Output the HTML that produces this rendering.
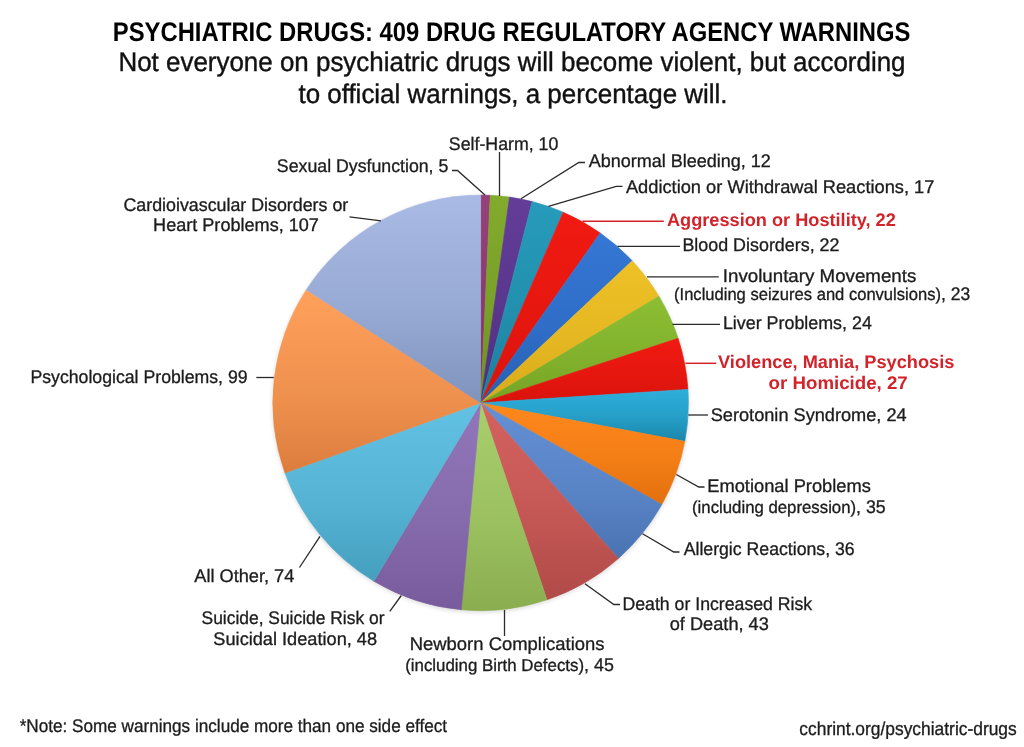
<!DOCTYPE html>
<html><head><meta charset="utf-8"><title>Psychiatric Drugs: 409 Drug Regulatory Agency Warnings</title>
<style>
html,body{margin:0;padding:0;background:#fff;}
body{width:1024px;height:747px;overflow:hidden;font-family:"Liberation Sans",sans-serif;}
svg{display:block;will-change:transform;}
svg text{font-family:"Liberation Sans",sans-serif;text-rendering:geometricPrecision;}
</style></head><body>
<svg width="1024" height="747" viewBox="0 0 1024 747">
<defs>
<linearGradient id="g0" x1="0" y1="0" x2="0" y2="1"><stop offset="0" stop-color="#97417a"/><stop offset="0.55" stop-color="#8c3970"/><stop offset="1" stop-color="#7e2f63"/></linearGradient>
<linearGradient id="g1" x1="0" y1="0" x2="0" y2="1"><stop offset="0" stop-color="#82ab2d"/><stop offset="0.55" stop-color="#79a028"/><stop offset="1" stop-color="#6c9020"/></linearGradient>
<linearGradient id="g2" x1="0" y1="0" x2="0" y2="1"><stop offset="0" stop-color="#633d99"/><stop offset="0.55" stop-color="#5a368d"/><stop offset="1" stop-color="#4e2d7d"/></linearGradient>
<linearGradient id="g3" x1="0" y1="0" x2="0" y2="1"><stop offset="0" stop-color="#279bbb"/><stop offset="0.55" stop-color="#228fae"/><stop offset="1" stop-color="#1a7f9c"/></linearGradient>
<linearGradient id="g4" x1="0" y1="0" x2="0" y2="1"><stop offset="0" stop-color="#f01a12"/><stop offset="0.55" stop-color="#e6170f"/><stop offset="1" stop-color="#d8130c"/></linearGradient>
<linearGradient id="g5" x1="0" y1="0" x2="0" y2="1"><stop offset="0" stop-color="#3577d4"/><stop offset="0.55" stop-color="#2f6dc7"/><stop offset="1" stop-color="#2660b4"/></linearGradient>
<linearGradient id="g6" x1="0" y1="0" x2="0" y2="1"><stop offset="0" stop-color="#eec127"/><stop offset="0.55" stop-color="#e5b722"/><stop offset="1" stop-color="#d9aa1a"/></linearGradient>
<linearGradient id="g7" x1="0" y1="0" x2="0" y2="1"><stop offset="0" stop-color="#8cbe33"/><stop offset="0.55" stop-color="#82b22d"/><stop offset="1" stop-color="#75a224"/></linearGradient>
<linearGradient id="g8" x1="0" y1="0" x2="0" y2="1"><stop offset="0" stop-color="#f01a12"/><stop offset="0.55" stop-color="#e6170f"/><stop offset="1" stop-color="#d8130c"/></linearGradient>
<linearGradient id="g9" x1="0" y1="0" x2="0" y2="1"><stop offset="0" stop-color="#2db0dc"/><stop offset="0.55" stop-color="#259ec7"/><stop offset="1" stop-color="#1a86aa"/></linearGradient>
<linearGradient id="g10" x1="0" y1="0" x2="0" y2="1"><stop offset="0" stop-color="#ff881c"/><stop offset="0.55" stop-color="#f37e16"/><stop offset="1" stop-color="#e2700e"/></linearGradient>
<linearGradient id="g11" x1="0" y1="0" x2="0" y2="1"><stop offset="0" stop-color="#6490d4"/><stop offset="0.55" stop-color="#5984c6"/><stop offset="1" stop-color="#4a73b2"/></linearGradient>
<linearGradient id="g12" x1="0" y1="0" x2="0" y2="1"><stop offset="0" stop-color="#d4625f"/><stop offset="0.55" stop-color="#c55855"/><stop offset="1" stop-color="#b04a48"/></linearGradient>
<linearGradient id="g13" x1="0" y1="0" x2="0" y2="1"><stop offset="0" stop-color="#a8cf6c"/><stop offset="0.55" stop-color="#9bc160"/><stop offset="1" stop-color="#8aad50"/></linearGradient>
<linearGradient id="g14" x1="0" y1="0" x2="0" y2="1"><stop offset="0" stop-color="#9176b9"/><stop offset="0.55" stop-color="#866bad"/><stop offset="1" stop-color="#785b9c"/></linearGradient>
<linearGradient id="g15" x1="0" y1="0" x2="0" y2="1"><stop offset="0" stop-color="#62c2e4"/><stop offset="0.55" stop-color="#56b3d4"/><stop offset="1" stop-color="#459fbe"/></linearGradient>
<linearGradient id="g16" x1="0" y1="0" x2="0" y2="1"><stop offset="0" stop-color="#ffa15b"/><stop offset="0.55" stop-color="#f0924f"/><stop offset="1" stop-color="#dc7d3e"/></linearGradient>
<linearGradient id="g17" x1="0" y1="0" x2="0" y2="1"><stop offset="0" stop-color="#a9bbe5"/><stop offset="0.55" stop-color="#97aad4"/><stop offset="1" stop-color="#7f93bd"/></linearGradient>
<filter id="sh" x="-10%" y="-10%" width="120%" height="120%"><feGaussianBlur stdDeviation="2.2"/></filter>
</defs>
<rect width="1024" height="747" fill="#ffffff"/>
<circle cx="480.6" cy="404.4" r="208.3" fill="#000" opacity="0.13" filter="url(#sh)"/>
<g>
<path d="M480.60,402.90 L480.60,195.10 A207.8,207.8 0 0 1 490.25,195.32 Z" fill="url(#g0)" stroke="url(#g0)" stroke-width="0.6"/>
<path d="M480.60,402.90 L490.25,195.32 A207.8,207.8 0 0 1 509.48,197.12 Z" fill="url(#g1)" stroke="url(#g1)" stroke-width="0.6"/>
<path d="M480.60,402.90 L509.48,197.12 A207.8,207.8 0 0 1 532.20,201.61 Z" fill="url(#g2)" stroke="url(#g2)" stroke-width="0.6"/>
<path d="M480.60,402.90 L532.20,201.61 A207.8,207.8 0 0 1 563.23,212.24 Z" fill="url(#g3)" stroke="url(#g3)" stroke-width="0.6"/>
<path d="M480.60,402.90 L563.23,212.24 A207.8,207.8 0 0 1 600.23,232.99 Z" fill="url(#g4)" stroke="url(#g4)" stroke-width="0.6"/>
<path d="M480.60,402.90 L600.23,232.99 A207.8,207.8 0 0 1 632.24,260.82 Z" fill="url(#g5)" stroke="url(#g5)" stroke-width="0.6"/>
<path d="M480.60,402.90 L632.24,260.82 A207.8,207.8 0 0 1 658.93,296.22 Z" fill="url(#g6)" stroke="url(#g6)" stroke-width="0.6"/>
<path d="M480.60,402.90 L658.93,296.22 A207.8,207.8 0 0 1 678.11,338.32 Z" fill="url(#g7)" stroke="url(#g7)" stroke-width="0.6"/>
<path d="M480.60,402.90 L678.11,338.32 A207.8,207.8 0 0 1 687.96,389.39 Z" fill="url(#g8)" stroke="url(#g8)" stroke-width="0.6"/>
<path d="M480.60,402.90 L687.96,389.39 A207.8,207.8 0 0 1 684.82,441.31 Z" fill="url(#g9)" stroke="url(#g9)" stroke-width="0.6"/>
<path d="M480.60,402.90 L684.82,441.31 A207.8,207.8 0 0 1 661.83,504.56 Z" fill="url(#g10)" stroke="url(#g10)" stroke-width="0.6"/>
<path d="M480.60,402.90 L661.83,504.56 A207.8,207.8 0 0 1 618.40,558.44 Z" fill="url(#g11)" stroke="url(#g11)" stroke-width="0.6"/>
<path d="M480.60,402.90 L618.40,558.44 A207.8,207.8 0 0 1 547.01,599.80 Z" fill="url(#g12)" stroke="url(#g12)" stroke-width="0.6"/>
<path d="M480.60,402.90 L547.01,599.80 A207.8,207.8 0 0 1 461.31,609.80 Z" fill="url(#g13)" stroke="url(#g13)" stroke-width="0.6"/>
<path d="M480.60,402.90 L461.31,609.80 A207.8,207.8 0 0 1 373.92,581.23 Z" fill="url(#g14)" stroke="url(#g14)" stroke-width="0.6"/>
<path d="M480.60,402.90 L373.92,581.23 A207.8,207.8 0 0 1 284.97,472.96 Z" fill="url(#g15)" stroke="url(#g15)" stroke-width="0.6"/>
<path d="M480.60,402.90 L284.97,472.96 A207.8,207.8 0 0 1 306.36,289.67 Z" fill="url(#g16)" stroke="url(#g16)" stroke-width="0.6"/>
<path d="M480.60,402.90 L306.36,289.67 A207.8,207.8 0 0 1 480.60,195.10 Z" fill="url(#g17)" stroke="url(#g17)" stroke-width="0.6"/>
</g>
<g>
<polyline points="452,170.5 457.5,170.5 485,195" fill="none" stroke="#2a2a2a" stroke-width="1.3"/>
<polyline points="499.5,152 499.5,196" fill="none" stroke="#2a2a2a" stroke-width="1.3"/>
<polyline points="585,162.5 578.8,162.5 521,198.8" fill="none" stroke="#2a2a2a" stroke-width="1.3"/>
<polyline points="622.5,186.3 616.2,186.3 548.5,206.3" fill="none" stroke="#2a2a2a" stroke-width="1.3"/>
<polyline points="582.5,221.3 663.8,221.3" fill="none" stroke="#d2232a" stroke-width="1.5"/>
<polyline points="617.5,246.3 680,246.3" fill="none" stroke="#2a2a2a" stroke-width="1.3"/>
<polyline points="647,276.8 718.8,276.8" fill="none" stroke="#2a2a2a" stroke-width="1.3"/>
<polyline points="672.5,324.3 720,324.3" fill="none" stroke="#2a2a2a" stroke-width="1.3"/>
<polyline points="685.5,363.3 716.3,363.3" fill="none" stroke="#d2232a" stroke-width="1.5"/>
<polyline points="688.3,415 708,415" fill="none" stroke="#2a2a2a" stroke-width="1.3"/>
<polyline points="704.5,487 698.8,487 676.3,474.5" fill="none" stroke="#2a2a2a" stroke-width="1.3"/>
<polyline points="679.5,552 673.8,552 642.5,533.8" fill="none" stroke="#2a2a2a" stroke-width="1.3"/>
<polyline points="620,604.5 613.8,604.5 585,583.8" fill="none" stroke="#2a2a2a" stroke-width="1.3"/>
<polyline points="504.5,610 504.5,636" fill="none" stroke="#2a2a2a" stroke-width="1.3"/>
<polyline points="401.3,595.5 389.8,611.3" fill="none" stroke="#2a2a2a" stroke-width="1.3"/>
<polyline points="320,536.3 299.5,567.5" fill="none" stroke="#2a2a2a" stroke-width="1.3"/>
<polyline points="256.3,377.5 273.8,377.5" fill="none" stroke="#2a2a2a" stroke-width="1.3"/>
<polyline points="349.5,216.8 381,220.8" fill="none" stroke="#2a2a2a" stroke-width="1.3"/>
</g>
<g>
<text x="112.83" y="40.60" font-size="27.0" font-weight="bold" fill="#000" textLength="797.62" lengthAdjust="spacingAndGlyphs">PSYCHIATRIC DRUGS: 409 DRUG REGULATORY AGENCY WARNINGS</text>
<text x="118.46" y="71.40" font-size="27.0" font-weight="normal" fill="#111" stroke="#111" stroke-width="0.4" textLength="787.07" lengthAdjust="spacingAndGlyphs">Not everyone on psychiatric drugs will become violent, but according</text>
<text x="298.43" y="102.60" font-size="27.0" font-weight="normal" fill="#111" stroke="#111" stroke-width="0.4" textLength="429.09" lengthAdjust="spacingAndGlyphs">to official warnings, a percentage will.</text>
<text x="276.86" y="172.40" font-size="18.2" font-weight="normal" fill="#1c1c1c" stroke="#1c1c1c" stroke-width="0.32" textLength="171.49" lengthAdjust="spacingAndGlyphs">Sexual Dysfunction, 5</text>
<text x="448.87" y="149.70" font-size="18.2" font-weight="normal" fill="#1c1c1c" stroke="#1c1c1c" stroke-width="0.32" textLength="109.41" lengthAdjust="spacingAndGlyphs">Self-Harm, 10</text>
<text x="588.67" y="166.70" font-size="18.2" font-weight="normal" fill="#1c1c1c" stroke="#1c1c1c" stroke-width="0.32" textLength="182.2" lengthAdjust="spacingAndGlyphs">Abnormal Bleeding, 12</text>
<text x="625.92" y="192.70" font-size="18.2" font-weight="normal" fill="#1c1c1c" stroke="#1c1c1c" stroke-width="0.32" textLength="308.54" lengthAdjust="spacingAndGlyphs">Addiction or Withdrawal Reactions, 17</text>
<text x="666.95" y="226.00" font-size="18.2" font-weight="bold" fill="#d2232a" textLength="228.88" lengthAdjust="spacingAndGlyphs">Aggression or Hostility, 22</text>
<text x="682.4" y="251.40" font-size="18.2" font-weight="normal" fill="#1c1c1c" stroke="#1c1c1c" stroke-width="0.32" textLength="157.13" lengthAdjust="spacingAndGlyphs">Blood Disorders, 22</text>
<text x="722.83" y="282.40" font-size="18.2" font-weight="normal" fill="#1c1c1c" stroke="#1c1c1c" stroke-width="0.32" textLength="193.44" lengthAdjust="spacingAndGlyphs">Involuntary Movements</text>
<text x="674.04" y="300.40" font-size="18.2" font-weight="normal" fill="#1c1c1c" stroke="#1c1c1c" stroke-width="0.32" textLength="296.13" lengthAdjust="spacingAndGlyphs"><tspan font-size="17.2">(Including seizures and convulsions)</tspan>, 23</text>
<text x="722.94" y="329.20" font-size="18.2" font-weight="normal" fill="#1c1c1c" stroke="#1c1c1c" stroke-width="0.32" textLength="148.92" lengthAdjust="spacingAndGlyphs">Liver Problems, 24</text>
<text x="718.06" y="368.40" font-size="18.2" font-weight="bold" fill="#d2232a" textLength="236.33" lengthAdjust="spacingAndGlyphs">Violence, Mania, Psychosis</text>
<text x="768.64" y="389.20" font-size="18.2" font-weight="bold" fill="#d2232a" textLength="139.09" lengthAdjust="spacingAndGlyphs">or Homicide, 27</text>
<text x="710.72" y="420.90" font-size="18.2" font-weight="normal" fill="#1c1c1c" stroke="#1c1c1c" stroke-width="0.32" textLength="195.94" lengthAdjust="spacingAndGlyphs">Serotonin Syndrome, 24</text>
<text x="707.29" y="492.40" font-size="18.2" font-weight="normal" fill="#1c1c1c" stroke="#1c1c1c" stroke-width="0.32" textLength="163.57" lengthAdjust="spacingAndGlyphs">Emotional Problems</text>
<text x="692.0" y="513.20" font-size="18.2" font-weight="normal" fill="#1c1c1c" stroke="#1c1c1c" stroke-width="0.32" textLength="193.74" lengthAdjust="spacingAndGlyphs"><tspan font-size="17.2">(including depression)</tspan>, 35</text>
<text x="683.66" y="555.40" font-size="18.2" font-weight="normal" fill="#1c1c1c" stroke="#1c1c1c" stroke-width="0.32" textLength="171.03" lengthAdjust="spacingAndGlyphs">Allergic Reactions, 36</text>
<text x="622.47" y="610.40" font-size="18.2" font-weight="normal" fill="#1c1c1c" stroke="#1c1c1c" stroke-width="0.32" textLength="189.75" lengthAdjust="spacingAndGlyphs">Death or Increased Risk</text>
<text x="669.75" y="630.40" font-size="18.2" font-weight="normal" fill="#1c1c1c" stroke="#1c1c1c" stroke-width="0.32" textLength="99.1" lengthAdjust="spacingAndGlyphs">of Death, 43</text>
<text x="409.71" y="650.40" font-size="18.2" font-weight="normal" fill="#1c1c1c" stroke="#1c1c1c" stroke-width="0.32" textLength="194.76" lengthAdjust="spacingAndGlyphs">Newborn Complications</text>
<text x="405.2" y="670.70" font-size="18.2" font-weight="normal" fill="#1c1c1c" stroke="#1c1c1c" stroke-width="0.32" textLength="208.63" lengthAdjust="spacingAndGlyphs"><tspan font-size="17.2">(including Birth Defects)</tspan>, 45</text>
<text x="201.54" y="624.20" font-size="18.2" font-weight="normal" fill="#1c1c1c" stroke="#1c1c1c" stroke-width="0.32" textLength="182.94" lengthAdjust="spacingAndGlyphs">Suicide, Suicide Risk or</text>
<text x="213.36" y="644.70" font-size="18.2" font-weight="normal" fill="#1c1c1c" stroke="#1c1c1c" stroke-width="0.32" textLength="163.73" lengthAdjust="spacingAndGlyphs">Suicidal Ideation, 48</text>
<text x="194.28" y="582.20" font-size="18.2" font-weight="normal" fill="#1c1c1c" stroke="#1c1c1c" stroke-width="0.32" textLength="100.05" lengthAdjust="spacingAndGlyphs">All Other, 74</text>
<text x="30.47" y="383.40" font-size="18.2" font-weight="normal" fill="#1c1c1c" stroke="#1c1c1c" stroke-width="0.32" textLength="217.15" lengthAdjust="spacingAndGlyphs">Psychological Problems, 99</text>
<text x="123.44" y="210.90" font-size="18.2" font-weight="normal" fill="#1c1c1c" stroke="#1c1c1c" stroke-width="0.32" textLength="224.84" lengthAdjust="spacingAndGlyphs">Cardioivascular Disorders or</text>
<text x="153.09" y="231.20" font-size="18.2" font-weight="normal" fill="#1c1c1c" stroke="#1c1c1c" stroke-width="0.32" textLength="165.81" lengthAdjust="spacingAndGlyphs">Heart Problems, 107</text>
<text x="19.71" y="732.20" font-size="18.2" font-weight="normal" fill="#1c1c1c" stroke="#1c1c1c" stroke-width="0.32" textLength="427.32" lengthAdjust="spacingAndGlyphs">*Note: Some warnings include more than one side effect</text>
<text x="799.33" y="734.80" font-size="18.8" font-weight="normal" fill="#1c1c1c" stroke="#1c1c1c" stroke-width="0.32" textLength="217.4" lengthAdjust="spacingAndGlyphs">cchrint.org/psychiatric-drugs</text>
</g>
</svg>
</body></html>
